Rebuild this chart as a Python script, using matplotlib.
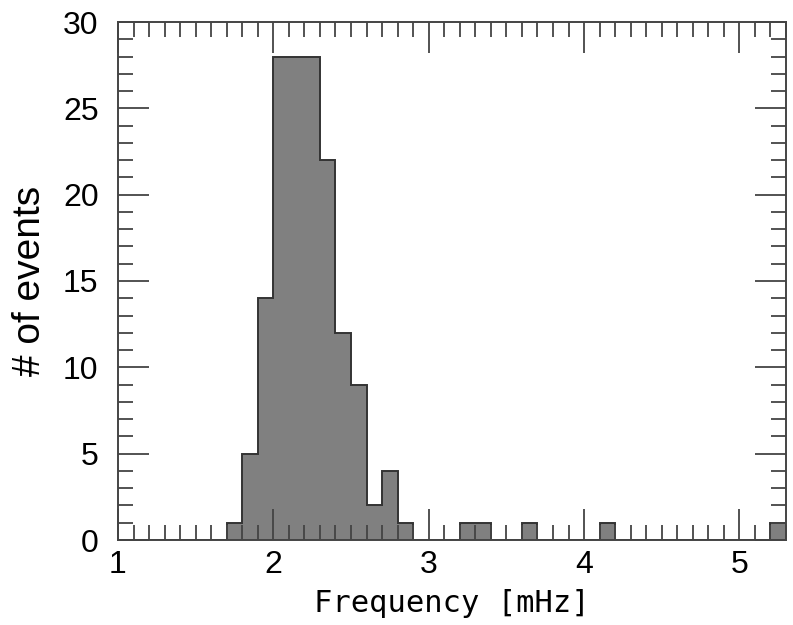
import numpy as np
import matplotlib
matplotlib.use("Agg")
import matplotlib.pyplot as plt
from matplotlib.ticker import MultipleLocator

# histogram bins: 0.1 mHz wide, from 1.0 to 5.3 mHz
bin_edges = np.round(np.arange(1.0, 5.31, 0.1), 2)
counts = [0, 0, 0, 0, 0, 0, 0,      # 1.0 - 1.7
          1, 5, 14, 28, 28, 28, 22, 12, 9, 2, 4, 1,   # 1.7 - 2.9
          0, 0, 0,                  # 2.9 - 3.2
          1, 1, 0, 0, 1, 0, 0, 0, 0,   # 3.2 - 4.1
          1, 0, 0, 0, 0, 0, 0, 0, 0, 0, 0,  # 4.1 - 5.2
          1]                        # 5.2 - 5.3

plt.rcParams['font.family'] = ['Liberation Sans']

fig = plt.figure(figsize=(7.93, 6.25), dpi=100)
ax = fig.add_axes([0.1488, 0.136, 0.8424, 0.8288])

ax.stairs(counts, bin_edges, fill=True, facecolor='#808080',
          edgecolor='#333333', linewidth=1.4, baseline=0)

ax.set_xlim(1.0, 5.3)
ax.set_ylim(0, 30)
ax.xaxis.set_major_locator(MultipleLocator(1))
ax.xaxis.set_minor_locator(MultipleLocator(0.1))
ax.yaxis.set_major_locator(MultipleLocator(5))
ax.yaxis.set_minor_locator(MultipleLocator(1))

ax.tick_params(which='both', direction='in', top=True, right=True,
               color='#444444', width=1.3)
ax.tick_params(which='major', length=22, labelsize=23)
ax.tick_params(axis='x', which='major', pad=7)
ax.tick_params(axis='y', which='major', pad=14)
ax.tick_params(which='minor', length=11)
for s in ax.spines.values():
    s.set_color('#444444')
    s.set_linewidth(1.4)

ax.set_xlabel('Frequency [mHz]', fontsize=22, family='DejaVu Sans Mono', labelpad=7)
ax.set_ylabel('# of events', fontsize=28, labelpad=11)

fig.savefig('out.png', dpi=100)
